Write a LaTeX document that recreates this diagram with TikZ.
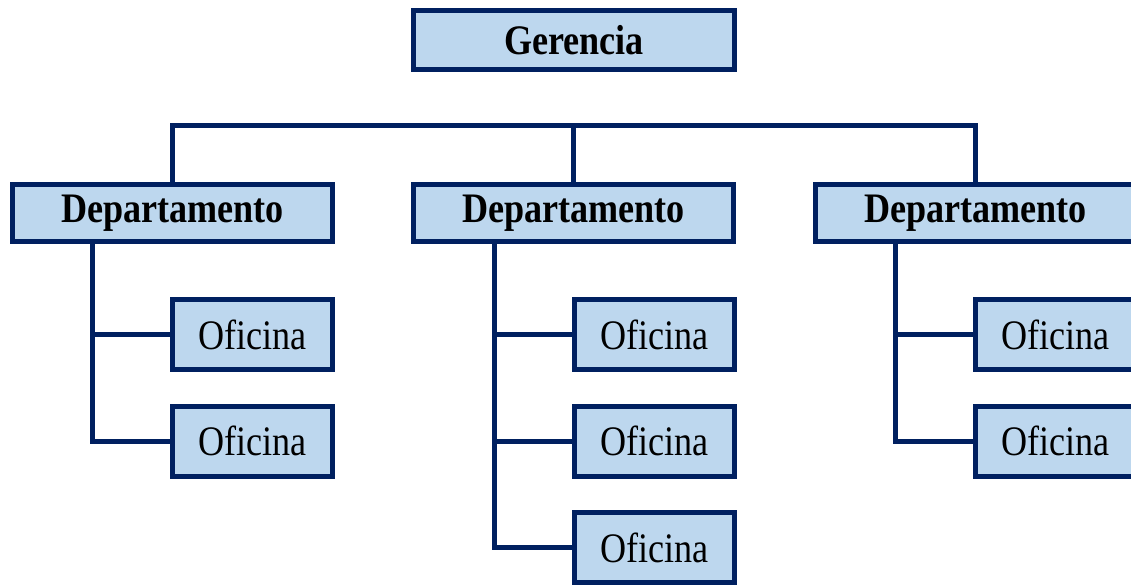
\documentclass[tikz,border=0pt]{standalone}
\usepackage{fontspec}
\setmainfont{Liberation Serif}[FakeStretch=0.86]
\definecolor{navy}{HTML}{002060}
\definecolor{boxfill}{HTML}{BDD7EE}
\begin{document}
\begin{tikzpicture}[x=1pt,y=-1pt,
  box/.style={draw=navy,fill=boxfill,line width=5pt,inner sep=0pt,
    font=\fontsize{42}{50}\selectfont},
  topbox/.style={box,font=\fontsize{42}{50}\selectfont\bfseries,minimum width=321pt,minimum height=59pt},
  deptbox/.style={box,font=\fontsize{42}{50}\selectfont\bfseries,minimum width=320pt,minimum height=57pt},
  offbox/.style={box,minimum width=160pt,minimum height=70pt},
  link/.style={draw=navy,line width=5pt}]
\useasboundingbox (0,0) rectangle (1131,585);
\clip (0,0) rectangle (1131,585);
\node[topbox] (g) at (574,40) {Gerencia};
\node[deptbox] (d1) at (172.5,213) {Departamento};
\node[deptbox] (d2) at (573.5,213) {Departamento};
\node[deptbox] (d3) at (975.5,213) {Departamento};
\node[offbox] (o11) at (252.5,334.5) {Oficina};
\node[offbox] (o12) at (252.5,441) {Oficina};
\node[offbox] (o21) at (654.5,334.5) {Oficina};
\node[offbox] (o22) at (654.5,441) {Oficina};
\node[offbox] (o23) at (654.5,547.5) {Oficina};
\node[offbox] (o31) at (1055.5,334.5) {Oficina};
\node[offbox] (o32) at (1055.5,441) {Oficina};
\coordinate (bar) at (573.5,126);
\coordinate (v1) at (92.5,0);
\coordinate (v2) at (494,0);
\coordinate (v3) at (895,0);
\draw[link] (d1.north) |- (bar) -| (d3.north);
\draw[link] (d2.north) -- (bar);
\draw[link] (d1.south -| v1) |- (o12.west);
\draw[link] (o11.west -| v1) -- (o11.west);
\draw[link] (d2.south -| v2) |- (o23.west);
\draw[link] (o21.west -| v2) -- (o21.west);
\draw[link] (o22.west -| v2) -- (o22.west);
\draw[link] (d3.south -| v3) |- (o32.west);
\draw[link] (o31.west -| v3) -- (o31.west);
\end{tikzpicture}
\end{document}
